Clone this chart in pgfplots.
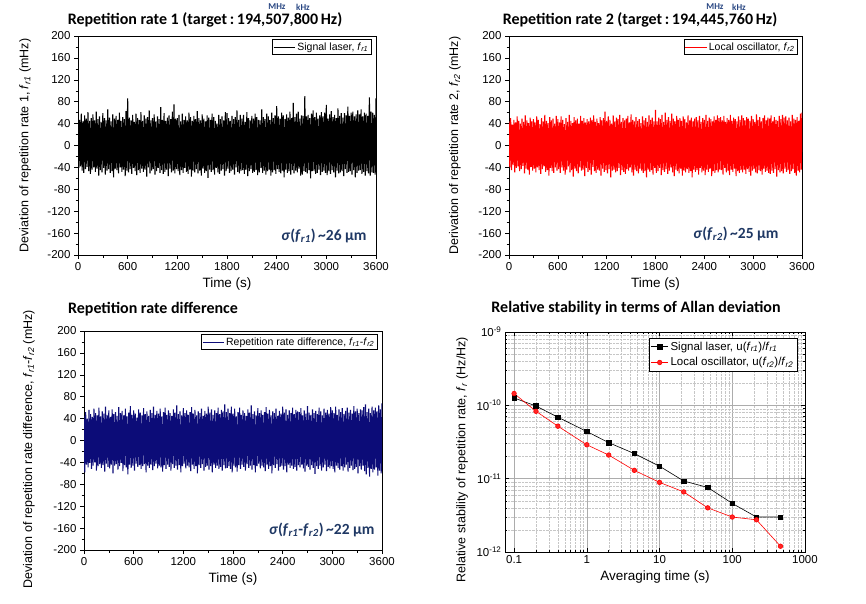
\documentclass[border=0pt]{standalone}
\usepackage{fontspec}
\setmainfont{Liberation Sans}
\newfontfamily\titlefont{Carlito}
\usepackage{pgfplots}
\pgfplotsset{compat=1.18}
\definecolor{annblue}{RGB}{31,56,100}
\definecolor{unitblue}{RGB}{40,70,130}
\definecolor{navyline}{RGB}{12,12,120}
\newcommand{\fr}[1]{\textit{f}\textsubscript{\textit{#1}}}
\pgfplotsset{
  timeaxis/.style={scale only axis, anchor=north west,
    xmin=0, xmax=3600, ymin=-200, ymax=200,
    xtick={0,600,...,3600}, ytick={-200,-160,...,200},
    minor x tick num=1, minor y tick num=1,
    tick align=outside, xtick pos=bottom, ytick pos=left,
    major tick length=4pt, minor tick length=2.5pt,
    tick style={black, line width=0.5pt},
    ticklabel style={font=\fontsize{11.5}{12}\selectfont},
    /pgf/number format/assume math mode=true,
    /pgf/number format/1000 sep={},
    xlabel style={font=\fontsize{13.5}{14}\selectfont},
    ylabel style={font=\fontsize{12.5}{13}\selectfont, anchor=center},
    legend style={font=\fontsize{10.5}{11}\selectfont, at={(0.985,0.985)}, anchor=north east,
      draw=black, inner sep=1pt, cells={anchor=west}},
    legend image code/.code={\draw[#1, line width=0.6pt] (0cm,0cm) -- (0.75cm,0cm);},
    axis line style={line width=0.6pt},
  },
  noise/.style={line width=1.1pt, line join=bevel}
}
\begin{document}
\begin{tikzpicture}
\useasboundingbox (0pt,0pt) rectangle (866pt,-603pt);

% ---------- top-left ----------
\begin{axis}[timeaxis, at={(78pt,-36pt)}, width=298pt, height=219pt,
  xlabel={Time (s)},
  ylabel={Deviation of repetition rate 1, \fr{r1} (mHz)},
  ylabel style={at={(axis description cs:-0.177,0.5)}}]
\addplot[black, noise] coordinates {
(0,52)(10,-41)(20,47)(30,-38)(40,58)(50,-46)(60,44)(70,-50)(80,55)(90,-43)(100,49)(110,-39)(120,61)(130,-47)(140,45)(150,-52)(160,50)(170,-44)(180,57)(190,-40)
(200,46)(210,-48)(220,62)(230,-42)(240,48)(250,-55)(260,53)(270,-45)(280,43)(290,-49)(300,59)(310,-41)(320,50)(330,-53)(340,46)(350,-46)(360,66)(370,-43)(380,51)(390,-50)
(400,44)(410,-47)(420,57)(430,-58)(440,49)(450,-42)(460,54)(470,-45)(480,47)(490,-51)(500,60)(510,-40)(520,45)(530,-48)(540,52)(550,-44)(560,48)(570,-56)(580,63)(590,-46)
(600,86)(610,-49)(620,51)(630,-43)(640,46)(650,-52)(660,56)(670,-41)(680,43)(690,-47)(700,58)(710,-54)(720,50)(730,-45)(740,47)(750,-50)(760,61)(770,-42)(780,45)(790,-48)
(800,55)(810,-44)(820,49)(830,-57)(840,52)(850,-40)(860,64)(870,-51)(880,46)(890,-46)(900,50)(910,-43)(920,57)(930,-53)(940,44)(950,-47)(960,53)(970,-41)(980,48)(990,-50)
(1000,70)(1010,-45)(1020,47)(1030,-52)(1040,59)(1050,-48)(1060,45)(1070,-44)(1080,51)(1090,-56)(1100,55)(1110,-42)(1120,48)(1130,-49)(1140,62)(1150,-46)(1160,75)(1170,-51)(1180,49)(1190,-43)
(1200,50)(1210,-47)(1220,56)(1230,-54)(1240,44)(1250,-45)(1260,58)(1270,-50)(1280,47)(1290,-41)(1300,53)(1310,-48)(1320,46)(1330,-52)(1340,60)(1350,-44)(1360,52)(1370,-57)(1380,45)(1390,-46)
(1400,54)(1410,-49)(1420,48)(1430,-43)(1440,63)(1450,-51)(1460,50)(1470,-46)(1480,46)(1490,-55)(1500,57)(1510,-42)(1520,49)(1530,-50)(1540,44)(1550,-47)(1560,55)(1570,-59)(1580,51)(1590,-44)
(1600,47)(1610,-48)(1620,58)(1630,-45)(1640,52)(1650,-53)(1660,45)(1670,-41)(1680,40)(1690,-49)(1700,56)(1710,-52)(1720,48)(1730,-46)(1740,53)(1750,-43)(1760,46)(1770,-55)(1780,61)(1790,-47)
(1800,59)(1810,-42)(1820,50)(1830,-50)(1840,45)(1850,-47)(1860,54)(1870,-44)(1880,48)(1890,-53)(1900,52)(1910,-40)(1920,64)(1930,-48)(1940,47)(1950,-51)(1960,56)(1970,-46)(1980,49)(1990,-45)
(2000,56)(2010,-52)(2020,43)(2030,-44)(2040,61)(2050,-56)(2060,50)(2070,-47)(2080,46)(2090,-43)(2100,54)(2110,-50)(2120,49)(2130,-48)(2140,58)(2150,-45)(2160,52)(2170,-54)(2180,47)(2190,-49)
(2200,46)(2210,-41)(2220,66)(2230,-50)(2240,52)(2250,-46)(2260,48)(2270,-53)(2280,58)(2290,-47)(2300,53)(2310,-44)(2320,47)(2330,-55)(2340,60)(2350,-49)(2360,50)(2370,-45)(2380,55)(2390,-52)
(2400,72)(2410,-43)(2420,53)(2430,-48)(2440,49)(2450,-51)(2460,60)(2470,-46)(2480,55)(2490,-58)(2500,48)(2510,-44)(2520,57)(2530,-50)(2540,51)(2550,-47)(2560,62)(2570,-53)(2580,50)(2590,-45)
(2600,78)(2610,-51)(2620,52)(2630,-46)(2640,58)(2650,-49)(2660,62)(2670,-42)(2680,49)(2690,-55)(2700,55)(2710,-53)(2720,54)(2730,-47)(2740,90)(2750,-48)(2760,53)(2770,-51)(2780,56)(2790,-45)
(2800,50)(2810,-60)(2820,58)(2830,-47)(2840,64)(2850,-46)(2860,52)(2870,-52)(2880,60)(2890,-50)(2900,49)(2910,-44)(2920,55)(2930,-54)(2940,61)(2950,-48)(2960,53)(2970,-46)(2980,60)(2990,-50)
(3000,74)(3010,-54)(3020,49)(3030,-47)(3040,57)(3050,-52)(3060,63)(3070,-45)(3080,52)(3090,-49)(3100,56)(3110,-58)(3120,50)(3130,-46)(3140,68)(3150,-51)(3160,54)(3170,-49)(3180,59)(3190,-47)
(3200,51)(3210,-56)(3220,59)(3230,-43)(3240,55)(3250,-50)(3260,71)(3270,-48)(3280,54)(3290,-47)(3300,60)(3310,-53)(3320,62)(3330,-45)(3340,53)(3350,-58)(3360,57)(3370,-50)(3380,64)(3390,-46)
(3400,57)(3410,-45)(3420,66)(3430,-52)(3440,53)(3450,-48)(3460,60)(3470,-55)(3480,58)(3490,-47)(3500,54)(3510,-51)(3520,88)(3530,-55)(3540,62)(3550,-49)(3560,60)(3570,-50)(3580,56)(3590,-53)
(3600,86)};
\addlegendentry{Signal laser, \fr{r1}}
\end{axis}

% ---------- top-right ----------
\begin{axis}[timeaxis, at={(509pt,-36pt)}, width=293pt, height=219pt,
  xlabel={Time (s)},
  ylabel={Derivation of repetition rate 2, \fr{r2} (mHz)},
  ylabel style={at={(axis description cs:-0.185,0.5)}}]
\addplot[red, noise] coordinates {
(0,44)(10,-40)(20,50)(30,-45)(40,38)(50,-36)(60,47)(70,-49)(80,42)(90,-41)(100,53)(110,-38)(120,45)(130,-47)(140,40)(150,-43)(160,49)(170,-37)(180,43)(190,-51)
(200,55)(210,-42)(220,46)(230,-44)(240,41)(250,-53)(260,51)(270,-39)(280,44)(290,-46)(300,48)(310,-42)(320,42)(330,-49)(340,53)(350,-40)(360,47)(370,-45)(380,39)(390,-52)
(400,50)(410,-43)(420,44)(430,-38)(440,56)(450,-48)(460,45)(470,-45)(480,41)(490,-55)(500,52)(510,-41)(520,46)(530,-47)(540,49)(550,-50)(560,40)(570,-40)(580,54)(590,-46)
(600,48)(610,-43)(620,42)(630,-50)(640,53)(650,-40)(660,47)(670,-46)(680,39)(690,-53)(700,50)(710,-44)(720,43)(730,-38)(740,56)(750,-49)(760,45)(770,-45)(780,41)(790,-57)
(800,52)(810,-42)(820,46)(830,-47)(840,49)(850,-51)(860,40)(870,-40)(880,54)(890,-46)(900,45)(910,-44)(920,50)(930,-56)(940,42)(950,-41)(960,48)(970,-48)(980,44)(990,-45)
(1000,51)(1010,-53)(1020,47)(1030,-39)(1040,55)(1050,-47)(1060,43)(1070,-50)(1080,49)(1090,-44)(1100,41)(1110,-46)(1120,52)(1130,-55)(1140,46)(1150,-42)(1160,50)(1170,-48)(1180,62)(1190,-45)
(1200,45)(1210,-51)(1220,53)(1230,-43)(1240,47)(1250,-58)(1260,40)(1270,-46)(1280,55)(1290,-44)(1300,44)(1310,-49)(1320,51)(1330,-47)(1340,48)(1350,-41)(1360,56)(1370,-54)(1380,43)(1390,-45)
(1400,50)(1410,-48)(1420,46)(1430,-52)(1440,49)(1450,-43)(1460,54)(1470,-46)(1480,42)(1490,-40)(1500,57)(1510,-49)(1520,47)(1530,-55)(1540,44)(1550,-44)(1560,52)(1570,-47)(1580,45)(1590,-51)
(1600,48)(1610,-42)(1620,41)(1630,-46)(1640,53)(1650,-50)(1660,46)(1670,-47)(1680,50)(1690,-58)(1700,43)(1710,-44)(1720,55)(1730,-48)(1740,47)(1750,-45)(1760,51)(1770,-53)(1780,44)(1790,-41)
(1800,65)(1810,-50)(1820,44)(1830,-47)(1840,51)(1850,-41)(1860,48)(1870,-54)(1880,56)(1890,-45)(1900,43)(1910,-48)(1920,60)(1930,-43)(1940,47)(1950,-52)(1960,52)(1970,-46)(1980,45)(1990,-40)
(2000,58)(2010,-49)(2020,49)(2030,-56)(2040,44)(2050,-44)(2060,54)(2070,-47)(2080,47)(2090,-51)(2100,50)(2110,-42)(2120,45)(2130,-55)(2140,53)(2150,-46)(2160,48)(2170,-49)(2180,42)(2190,-43)
(2200,55)(2210,-50)(2220,46)(2230,-47)(2240,51)(2250,-58)(2260,44)(2270,-44)(2280,49)(2290,-48)(2300,52)(2310,-45)(2320,46)(2330,-53)(2340,54)(2350,-41)(2360,43)(2370,-49)(2380,50)(2390,-46)
(2400,47)(2410,-54)(2420,56)(2430,-44)(2440,45)(2450,-48)(2460,51)(2470,-42)(2480,48)(2490,-56)(2500,44)(2510,-47)(2520,53)(2530,-50)(2540,47)(2550,-45)(2560,55)(2570,-49)(2580,50)(2590,-44)
(2600,52)(2610,-45)(2620,46)(2630,-53)(2640,54)(2650,-41)(2660,43)(2670,-49)(2680,50)(2690,-46)(2700,47)(2710,-54)(2720,56)(2730,-44)(2740,45)(2750,-48)(2760,51)(2770,-42)(2780,48)(2790,-56)
(2800,44)(2810,-47)(2820,53)(2830,-50)(2840,47)(2850,-45)(2860,55)(2870,-49)(2880,50)(2890,-44)(2900,46)(2910,-52)(2920,52)(2930,-43)(2940,49)(2950,-48)(2960,45)(2970,-55)(2980,54)(2990,-46)
(3000,48)(3010,-43)(3020,43)(3030,-49)(3040,57)(3050,-51)(3060,47)(3070,-45)(3080,52)(3090,-47)(3100,44)(3110,-53)(3120,50)(3130,-42)(3140,55)(3150,-48)(3160,46)(3170,-46)(3180,51)(3190,-50)
(3200,49)(3210,-52)(3220,55)(3230,-46)(3240,44)(3250,-50)(3260,52)(3270,-43)(3280,47)(3290,-57)(3300,45)(3310,-45)(3320,54)(3330,-49)(3340,48)(3350,-47)(3360,56)(3370,-51)(3380,51)(3390,-42)
(3400,53)(3410,-48)(3420,46)(3430,-45)(3440,51)(3450,-52)(3460,44)(3470,-47)(3480,56)(3490,-43)(3500,49)(3510,-50)(3520,47)(3530,-55)(3540,52)(3550,-46)(3560,45)(3570,-49)(3580,58)(3590,-44)
(3600,60)};
\addlegendentry{Local oscillator, \fr{r2}}
\end{axis}

% ---------- bottom-left ----------
\begin{axis}[timeaxis, at={(84pt,-331pt)}, width=298pt, height=219pt,
  xlabel={Time (s)},
  ylabel={Deviation of repetition rate difference, \fr{r1}-\fr{r2} (mHz)},
  ylabel style={at={(axis description cs:-0.185,0.46)}}]
\addplot[navyline, noise] coordinates {
(0,45)(10,-58)(20,52)(30,-44)(40,40)(50,-49)(60,56)(70,-41)(80,48)(90,-52)(100,43)(110,-46)(120,58)(130,-40)(140,50)(150,-55)(160,46)(170,-47)(180,60)(190,-43)
(200,44)(210,-50)(220,53)(230,-45)(240,49)(250,-57)(260,62)(270,-42)(280,47)(290,-48)(300,55)(310,-51)(320,43)(330,-44)(340,57)(350,-60)(360,48)(370,-46)(380,52)(390,-43)
(400,45)(410,-53)(420,61)(430,-47)(440,50)(450,-41)(460,54)(470,-56)(480,46)(490,-45)(500,58)(510,-49)(520,44)(530,-62)(540,51)(550,-44)(560,63)(570,-50)(580,47)(590,-46)
(600,55)(610,-55)(620,49)(630,-42)(640,42)(650,-48)(660,57)(670,-45)(680,51)(690,-52)(700,46)(710,-47)(720,59)(730,-43)(740,48)(750,-58)(760,53)(770,-46)(780,45)(790,-50)
(800,56)(810,-44)(820,50)(830,-54)(840,62)(850,-47)(860,47)(870,-42)(880,54)(890,-51)(900,49)(910,-46)(920,58)(930,-49)(940,44)(950,-57)(960,52)(970,-45)(980,60)(990,-52)
(1000,47)(1010,-44)(1020,55)(1030,-48)(1040,50)(1050,-55)(1060,45)(1070,-43)(1080,57)(1090,-50)(1100,51)(1110,-46)(1120,64)(1130,-53)(1140,48)(1150,-45)(1160,53)(1170,-58)(1180,46)(1190,-47)
(1200,59)(1210,-42)(1220,50)(1230,-51)(1240,55)(1250,-46)(1260,47)(1270,-49)(1280,52)(1290,-56)(1300,61)(1310,-44)(1320,49)(1330,-52)(1340,56)(1350,-47)(1360,46)(1370,-60)(1380,53)(1390,-45)
(1400,50)(1410,-50)(1420,58)(1430,-43)(1440,45)(1450,-55)(1460,54)(1470,-48)(1480,49)(1490,-46)(1500,62)(1510,-53)(1520,51)(1530,-47)(1540,57)(1550,-58)(1560,47)(1570,-44)(1580,55)(1590,-50)
(1600,50)(1610,-46)(1620,60)(1630,-52)(1640,48)(1650,-48)(1660,56)(1670,-55)(1680,53)(1690,-45)(1700,66)(1710,-51)(1720,52)(1730,-50)(1740,58)(1750,-47)(1760,50)(1770,-52)(1780,62)(1790,-58)
(1800,49)(1810,-46)(1820,58)(1830,-49)(1840,44)(1850,-57)(1860,52)(1870,-45)(1880,60)(1890,-52)(1900,47)(1910,-44)(1920,55)(1930,-48)(1940,50)(1950,-55)(1960,45)(1970,-43)(1980,57)(1990,-50)
(2000,51)(2010,-46)(2020,64)(2030,-53)(2040,48)(2050,-45)(2060,53)(2070,-58)(2080,46)(2090,-47)(2100,59)(2110,-42)(2120,50)(2130,-51)(2140,55)(2150,-46)(2160,47)(2170,-49)(2180,52)(2190,-56)
(2200,61)(2210,-44)(2220,49)(2230,-52)(2240,56)(2250,-47)(2260,46)(2270,-60)(2280,53)(2290,-45)(2300,50)(2310,-50)(2320,58)(2330,-43)(2340,45)(2350,-55)(2360,54)(2370,-48)(2380,49)(2390,-46)
(2400,62)(2410,-53)(2420,51)(2430,-47)(2440,57)(2450,-58)(2460,47)(2470,-44)(2480,55)(2490,-50)(2500,50)(2510,-46)(2520,60)(2530,-52)(2540,48)(2550,-48)(2560,56)(2570,-55)(2580,53)(2590,-45)
(2600,52)(2610,-49)(2620,59)(2630,-44)(2640,46)(2650,-51)(2660,55)(2670,-57)(2680,49)(2690,-46)(2700,63)(2710,-48)(2720,51)(2730,-53)(2740,47)(2750,-45)(2760,57)(2770,-50)(2780,50)(2790,-61)
(2800,54)(2810,-47)(2820,48)(2830,-52)(2840,60)(2850,-46)(2860,53)(2870,-55)(2880,46)(2890,-49)(2900,58)(2910,-44)(2920,51)(2930,-56)(2940,56)(2950,-48)(2960,49)(2970,-51)(2980,61)(2990,-47)
(3000,55)(3010,-52)(3020,50)(3030,-58)(3040,62)(3050,-46)(3060,47)(3070,-50)(3080,57)(3090,-53)(3100,52)(3110,-47)(3120,59)(3130,-55)(3140,48)(3150,-49)(3160,54)(3170,-44)(3180,60)(3190,-57)
(3200,51)(3210,-50)(3220,56)(3230,-46)(3240,49)(3250,-54)(3260,63)(3270,-52)(3280,53)(3290,-48)(3300,58)(3310,-60)(3320,50)(3330,-47)(3340,57)(3350,-53)(3360,55)(3370,-46)(3380,61)(3390,-56)
(3400,66)(3410,-62)(3420,52)(3430,-50)(3440,58)(3450,-66)(3460,50)(3470,-52)(3480,62)(3490,-58)(3500,55)(3510,-53)(3520,60)(3530,-49)(3540,53)(3550,-64)(3560,64)(3570,-55)(3580,57)(3590,-60)
(3600,68)};
\addlegendentry{Repetition rate difference, \fr{r1}-\fr{r2}}
\end{axis}

% ---------- bottom-right (Allan) ----------
\begin{axis}[scale only axis, anchor=north west, at={(505pt,-332pt)}, width=300pt, height=220pt,
  xmode=log, ymode=log, xmin=0.075, xmax=1000, ymin=1e-12, ymax=1e-9,
  xtick={0.1,1,10,100,1000}, xticklabels={0.1,1,10,100,1000},
  ytick={1e-12,1e-11,1e-10,1e-9},
  yticklabels={10\textsuperscript{-12},10\textsuperscript{-11},10\textsuperscript{-10},10\textsuperscript{-9}},
  grid=both, major grid style={gray!65, line width=0.6pt}, minor grid style={gray!45, densely dotted},
  tick align=inside, major tick length=4pt, minor tick length=2pt,
  tick style={black, line width=0.5pt},
  axis line style={line width=0.6pt},
  ticklabel style={font=\fontsize{11.5}{12}\selectfont},
  xlabel={Averaging time (s)},
  xlabel style={font=\fontsize{13.5}{14}\selectfont},
  ylabel={Relative stability of repetition rate, \fr{r} (Hz/Hz)},
  ylabel style={font=\fontsize{12.5}{13}\selectfont, anchor=center, at={(axis description cs:-0.143,0.42)}},
  legend style={font=\fontsize{11.5}{12}\selectfont, at={(0.975,0.975)}, anchor=north east,
    draw=black, fill=white, inner sep=2pt, cells={anchor=west}, row sep=2pt}]
\addplot[black, line width=0.6pt, mark=square*, mark size=2.2pt, mark options={fill=black}] coordinates {
(0.1,1.26e-10)(0.2,9.8e-11)(0.4,6.9e-11)(1,4.4e-11)(2,3.1e-11)(4.5,2.2e-11)(10,1.48e-11)(21.5,9.3e-12)(46,7.6e-12)(100,4.6e-12)(215,3.0e-12)(460,3.0e-12)};
\addlegendentry{Signal laser, u(\fr{r1})/\fr{r1}}
\addplot[red, line width=0.6pt, mark=*, mark size=2.3pt, mark options={fill=red!85!white, draw=red}] coordinates {
(0.1,1.45e-10)(0.2,8.3e-11)(0.4,5.2e-11)(1,2.9e-11)(2,2.1e-11)(4.5,1.3e-11)(10,8.9e-12)(21.5,6.6e-12)(46,4.0e-12)(100,3.0e-12)(215,2.75e-12)(460,1.2e-12)};
\addlegendentry{Local oscillator, u(\fr{r2})/\fr{r2}}
\end{axis}

% ---------- titles ----------
\node[font=\titlefont\bfseries\fontsize{16}{18}\selectfont] at (205pt,-20pt) {Repetition rate 1 (target\,:\,194,507,800\,Hz)};
\node[font=\titlefont\bfseries\fontsize{9}{10}\selectfont, text=unitblue] at (277pt,-7pt) {MHz};
\node[font=\titlefont\bfseries\fontsize{9}{10}\selectfont, text=unitblue] at (303pt,-7pt) {kHz};
\node[font=\titlefont\bfseries\fontsize{16}{18}\selectfont] at (640pt,-20pt) {Repetition rate 2 (target\,:\,194,445,760\,Hz)};
\node[font=\titlefont\bfseries\fontsize{9}{10}\selectfont, text=unitblue] at (715pt,-7pt) {MHz};
\node[font=\titlefont\bfseries\fontsize{9}{10}\selectfont, text=unitblue] at (739pt,-7pt) {kHz};
\node[font=\titlefont\bfseries\fontsize{16}{18}\selectfont] at (153pt,-309pt) {Repetition rate difference};
\node[font=\titlefont\bfseries\fontsize{16}{18}\selectfont] at (636pt,-308pt) {Relative stability in terms of Allan deviation};

% ---------- sigma annotations ----------
\node[anchor=east, font=\titlefont\bfseries\fontsize{15.5}{17}\selectfont, text=annblue] at (370pt,-236pt) {\textit{σ}(\textit{f}\textsubscript{\textit{r1}})\,\textasciitilde 26 μm};
\node[anchor=east, font=\titlefont\bfseries\fontsize{15.5}{17}\selectfont, text=annblue] at (782pt,-234pt) {\textit{σ}(\textit{f}\textsubscript{\textit{r2}})\,\textasciitilde 25 μm};
\node[anchor=east, font=\titlefont\bfseries\fontsize{15.5}{17}\selectfont, text=annblue] at (378pt,-530pt) {\textit{σ}(\textit{f}\textsubscript{\textit{r1}}-\textit{f}\textsubscript{\textit{r2}})\,\textasciitilde 22 μm};
\end{tikzpicture}
\end{document}
